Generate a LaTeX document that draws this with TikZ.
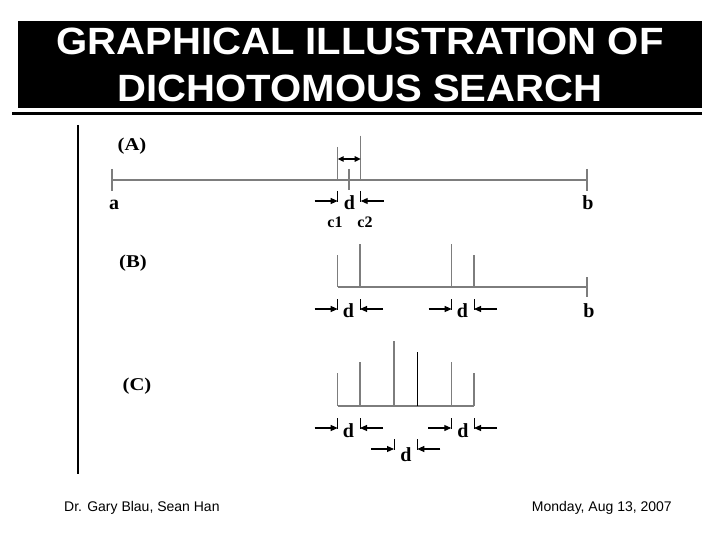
\documentclass[tikz,border=0pt]{standalone}
\usepackage{fontspec}
\setmainfont{Liberation Serif}
\setsansfont{Liberation Sans}
\usetikzlibrary{arrows.meta}
\definecolor{scl}{RGB}{125,125,125}
\tikzset{
  scaleline/.style={draw=scl, line width=1.4pt},
  pointer/.style={draw=black, line width=1.1pt, -{Triangle[length=7pt,width=6pt]}},
  twoway/.style={draw=black, line width=1.1pt, {Triangle[length=6pt,width=5.5pt]}-{Triangle[length=6pt,width=5.5pt]}},
  stub/.style={draw=black, line width=1pt},
  lab/.style={anchor=base, font=\fontsize{20}{20}\selectfont\bfseries, inner sep=0pt},
  sublab/.style={anchor=base, font=\fontsize{16}{16}\selectfont\bfseries, inner sep=0pt},
  part/.style={anchor=base, font=\fontsize{18}{18}\selectfont\bfseries, inner sep=0pt, xscale=1.15},
  ttl/.style={anchor=base, text=white, inner sep=0pt, xscale=1.055, font=\sffamily\bfseries\fontsize{38}{38}\selectfont},
  foot/.style={inner sep=0pt, font=\sffamily\fontsize{14}{14}\selectfont},
}
% pointer from the left ending at x, with stub
\newcommand{\ptrR}[2]{\draw[pointer] (#1-23,#2) -- (#1,#2); \draw[stub] (#1,#2-10) -- (#1,#2+1);}
% pointer from the right ending at x, with stub
\newcommand{\ptrL}[2]{\draw[pointer] (#1+23,#2) -- (#1,#2); \draw[stub] (#1,#2-10) -- (#1,#2+1);}
\begin{document}
\begin{tikzpicture}[x=1pt,y=-1pt]
\useasboundingbox (0,0) rectangle (720,540);
% title
\fill[black] (18,21) rectangle (702,108);
\node[ttl] (t1) at (360,55) {GRAPHICAL ILLUSTRATION OF};
\node[ttl] (t2) at (360,101.5) {DICHOTOMOUS SEARCH};
\draw[line width=3pt] (12,113.5) -- (702,113.5);
\draw[line width=1.3pt] (78,125) -- (78,474);

% ---------- (A)
\node[part] (pA) at (132,151) {(A)};
\draw[scaleline] (112,180) -- (587,180);
\draw[scaleline] (112,169) -- (112,191);
\draw[scaleline] (587,169) -- (587,191);
\draw[scaleline] (337.7,147) -- (337.7,180);
\draw[scaleline] (360.7,135.7) -- (360.7,180);
\draw[scaleline] (349,169) -- (349,190);
\draw[twoway] (337.7,159) -- (360.7,159);
\ptrR{337.7}{201}
\ptrL{360.7}{201}
\node[lab] (la) at (114,210) {a};
\node[lab] (ld) at (349.5,210) {d};
\node[lab] (lb) at (588,210) {b};
\node[sublab] (lc1) at (335,227) {c1};
\node[sublab] (lc2) at (365,227) {c2};

% ---------- (B)
\node[part] (pB) at (133,267) {(B)};
\draw[scaleline] (337.7,287) -- (587,287);
\draw[scaleline] (337.7,255) -- (337.7,287);
\draw[scaleline] (360,244) -- (360,287);
\draw[scaleline] (451.7,244) -- (451.7,287);
\draw[scaleline] (474,255) -- (474,287);
\draw[scaleline] (587,277) -- (587,297);
\ptrR{337.7}{309}
\ptrL{360}{309}
\ptrR{451.7}{309}
\ptrL{474}{309}
\node[lab] (ldB1) at (348.5,317) {d};
\node[lab] (ldB2) at (462.5,317) {d};
\node[lab] (lbB) at (589,317) {b};

% ---------- (C)
\node[part] (pC) at (137,390) {(C)};
\draw[scaleline] (337.7,406) -- (474,406);
\draw[scaleline] (337.7,373) -- (337.7,406);
\draw[scaleline] (360,362) -- (360,406);
\draw[scaleline] (394,341) -- (394,406);
\draw[line width=1.2pt] (417.3,352) -- (417.3,406);
\draw[scaleline] (451.3,362) -- (451.3,406);
\draw[scaleline] (474,373) -- (474,406);
\ptrR{337.7}{428}
\ptrL{360}{428}
\ptrR{451.3}{428}
\ptrL{474}{428}
\ptrR{394}{449}
\ptrL{417.3}{449}
\node[lab] (ldC1) at (348.5,437) {d};
\node[lab] (ldC2) at (463,437) {d};
\node[lab] (ldC3) at (406,461.5) {d};

% footer
\node[foot, anchor=base west] (f1) at (64,511) {Dr. Gary Blau, Sean Han};
\node[foot, anchor=base east] (f2) at (672,511) {Monday, Aug 13, 2007};
\end{tikzpicture}
\end{document}
